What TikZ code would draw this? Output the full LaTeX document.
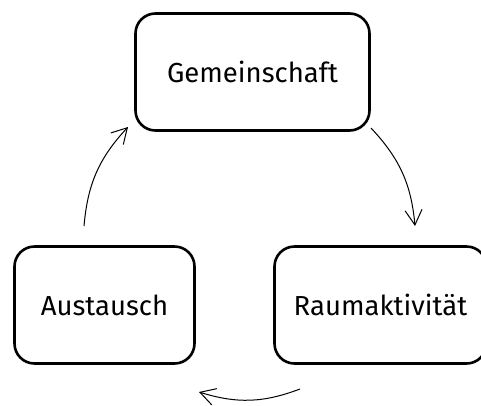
\documentclass[tikz,border=0pt]{standalone}
\usepackage{fontspec}
\setmainfont{Fira Sans}
\usetikzlibrary{arrows.meta}
\tikzset{
  box/.style={draw=black, line width=2.6pt, rounded corners=20pt, minimum height=117pt, inner sep=0pt, font=\fontsize{27.5}{31}\selectfont, text=black},
  cyc/.style={draw=black, line width=1pt, -{Straight Barb[length=15pt,width=17pt,line width=1pt]}, bend left=19}
}
\begin{document}
\begin{tikzpicture}[x=1pt,y=-1pt]
\useasboundingbox (0,0) rectangle (481,405);
\node[box, minimum width=234pt] (gem) at (252.5,72) {Gemeinschaft};
\node[box, minimum width=180pt] (aus) at (104.5,305) {Austausch};
\node[box, minimum width=212pt] (raum) at (380.5,305) {Raumaktivität};
\coordinate (a1s) at (84,226);
\coordinate (a1e) at (128,127);
\coordinate (a2s) at (371,128);
\coordinate (a2e) at (415,226);
\coordinate (a3s) at (300,389);
\coordinate (a3e) at (199,392);
\draw[cyc] (a1s) to (a1e);
\draw[cyc] (a2s) to (a2e);
\draw[cyc] (a3s) to (a3e);
\end{tikzpicture}
\end{document}
